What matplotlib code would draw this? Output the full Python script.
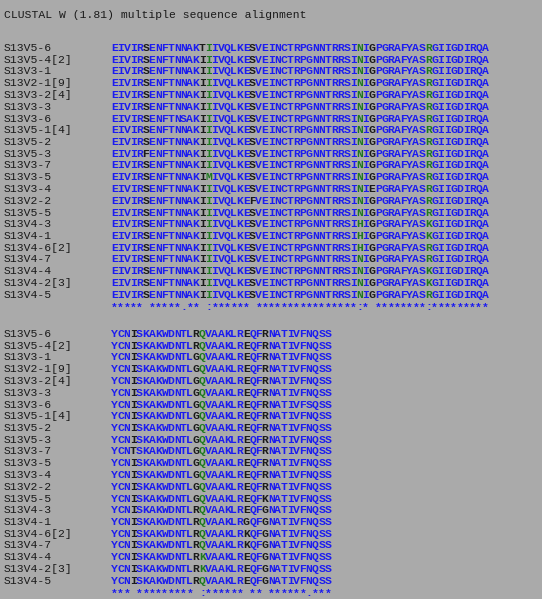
import matplotlib
matplotlib.use("Agg")
import matplotlib.pyplot as plt

title = "CLUSTAL W (1.81) multiple sequence alignment"
names = ["S13V5-6", "S13V5-4[2]", "S13V3-1", "S13V2-1[9]", "S13V3-2[4]", "S13V3-3",
         "S13V3-6", "S13V5-1[4]", "S13V5-2", "S13V5-3", "S13V3-7", "S13V3-5",
         "S13V3-4", "S13V2-2", "S13V5-5", "S13V4-3", "S13V4-1", "S13V4-6[2]",
         "S13V4-7", "S13V4-4", "S13V4-2[3]", "S13V4-5"]
block1 = [
    "EIVIRSENFTNNAKTIIVQLKESVEINCTRPGNNTRRSINIGPGRAFYASRGIIGDIRQA",
    "EIVIRSENFTNNAKIIIVQLKESVEINCTRPGNNTRRSINIGPGRAFYASRGIIGDIRQA",
    "EIVIRSENFTNNAKIIIVQLKESVEINCTRPGNNTRRSINIGPGRAFYASRGIIGDIRQA",
    "EIVIRSENFTNNAKIIIVQLKESVEINCTRPGNNTRRSINIGPGRAFYASRGIIGDIRQA",
    "EIVIRSENFTNNAKIIIVQLKESVEINCTRPGNNTRRSINIGPGRAFYASRGIIGDIRQA",
    "EIVIRSENFTNNAKIIIVQLKESVEINCTRPGNNTRRSINIGPGRAFYASRGIIGDIRQA",
    "EIVIRSENFTNSAKIIIVQLKESVEINCTRPGNNTRRSINIGPGRAFYASRGIIGDIRQA",
    "EIVIRSENFTNNAKIIIVQLKESVEINCTRPGNNTRRSINIGPGRAFYASRGIIGDIRQA",
    "EIVIRSENFTNNAKIIIVQLKESVEINCTRPGNNTRRSINIGPGRAFYASRGIIGDIRQA",
    "EIVIRFENFTNNAKIIIVQLKESVEINCTRPGNNTRRSINIGPGRAFYASRGIIGDIRQA",
    "EIVIRSENFTNNAKIIIVQLKESVEINCTRPGNNTRRSINIGPGRAFYASRGIIGDIRQA",
    "EIVIRSENFTNNAKIMIVQLKESVEINCTRPGNNTRRSINIGPGRAFYASRGIIGDIRQA",
    "EIVIRSENFTNNAKIIIVQLKESVEINCTRPGNNTRRSINIEPGRAFYASRGIIGDIRQA",
    "EIVIRSENFTNNAKIIIVQLKEFVEINCTRPGNNTRRSINIGPGRAFYASRGIIGDIRQA",
    "EIVIRSENFTNNAKIIIVQLKESVEINCTRPGNNTRRSINIGPGRAFYASRGIIGDIRQA",
    "EIVIRSENFTNNAKIIIVQLKESVEINCTRPGNNTRRSIHIGPGRAFYASKGIIGDIRQA",
    "EIVIRSENFTNNAKIIIVQLKESVEINCTRPGNNTRRSIHIGPGRAFYASKGIIGDIRQA",
    "EIVIRSENFTNNAKIIIVQLKESVEINCTRPGNNTRRSIHIGPGRAFYASRGIIGDIRQA",
    "EIVIRSENFTNNAKIIIVQLKESVEINCTRPGNNTRRSINIGPGRAFYASRGIIGDIRQA",
    "EIVIRSENFTNNAKIIIVQLKESVEINCTRPGNNTRRSINIGPGRAFYASKGIIGDIRQA",
    "EIVIRSENFTNNAKIIIVQLKESVEINCTRPGNNTRRSINIGPGRAFYASKGIIGDIRQA",
    "EIVIRSENFTNNAKIIIVQLKESVEINCTRPGNNTRRSINIGPGRAFYASRGIIGDIRQA",
]
cons1 = "***** *****.** :****** ****************:* ********:*********"
block2 = [
    "YCNISKAKWDNTLRQVAAKLREQFRNATIVFNQSS",
    "YCNISKAKWDNTLRQVAAKLREQFRNATIVFNQSS",
    "YCNISKAKWDNTLGQVAAKLREQFRNATIVFNQSS",
    "YCNISKAKWDNTLGQVAAKLREQFRNATIVFNQSS",
    "YCNISKAKWDNTLGQVAAKLREQFRNATIVFNQSS",
    "YCNISKAKWDNTLGQVAAKLREQFRNATIVFNQSS",
    "YCNISKAKWDNTLGQVAAKLREQFRNATIVFSQSS",
    "YCNISKAKWDNTLGQVAAKLREQFRNATIVFNQSS",
    "YCNISKAKWDNTLGQVAAKLREQFRNATIVFNQSS",
    "YCNISKAKWDNTLGQVAAKLREQFRNATIVFNQSS",
    "YCNTSKAKWDNTLGQVAAKLREQFRNATIVFNQSS",
    "YCNISKAKWDNTLGQVAAKLREQFRNATIVFNQSS",
    "YCNISKAKWDNTLGQVAAKLREQFRNATIVFNQSS",
    "YCNISKAKWDNTLGQVAAKLREQFRNATIVFNQSS",
    "YCNISKAKWDNTLGQVAAKLREQFKNATIVFNQSS",
    "YCNISKAKWDNTLRQVAAKLREQFGNATIVFNQSS",
    "YCNISKAKWDNTLRQVAAKLRGQFGNATIVFNQSS",
    "YCNISKAKWDNTLRQVAAKLRKQFGNATIVFNQSS",
    "YCNISKAKWDNTLRQVAAKLRKQFGNATIVFNQSS",
    "YCNISKAKWDNTLRKVAAKLREQFGNATIVFNQSS",
    "YCNISKAKWDNTLRKVAAKLREQFGNATIVFNQSS",
    "YCNISKAKWDNTLRQVAAKLREQFGNATIVFNQSS",
]
cons2 = "*** ********* :****** ** ******.***"

W, H = 542, 599
fig = plt.figure(figsize=(W / 100, H / 100), dpi=100)
fig.patch.set_facecolor("#aaaaaa")

BLUE, GREEN, BLACK = "#1c1cf0", "#1f7a1f", "#1a1a1a"
FONT = "Liberation Mono"
FS = 8.2
X_LABEL, X_SEQ, CW, DY = 4, 111, 6.28, 11.75

def px(x, y, s, color, weight="normal"):
    fig.text(x / W, 1 - y / H, s, color=color, fontsize=FS, family=FONT,
             weight=weight, ha="left", va="center")

px(4, 15, title, BLACK)

def draw_block(seqs, cons, y0):
    colcol = [BLUE if c in "*." else (GREEN if c == ":" else BLACK) for c in cons]
    for i, (n, s) in enumerate(zip(names, seqs)):
        y = y0 + i * DY
        px(X_LABEL, y, n, BLACK)
        for j, ch in enumerate(s):
            px(X_SEQ + j * CW, y, ch, colcol[j], "bold")
    y = y0 + len(seqs) * DY
    for j, ch in enumerate(cons):
        if ch != " ":
            px(X_SEQ + j * CW, y + 1, ch, BLUE, "bold")

draw_block(block1, cons1, 48)
draw_block(block2, cons2, 334)

fig.savefig("out.png", dpi=100, facecolor=fig.get_facecolor())
